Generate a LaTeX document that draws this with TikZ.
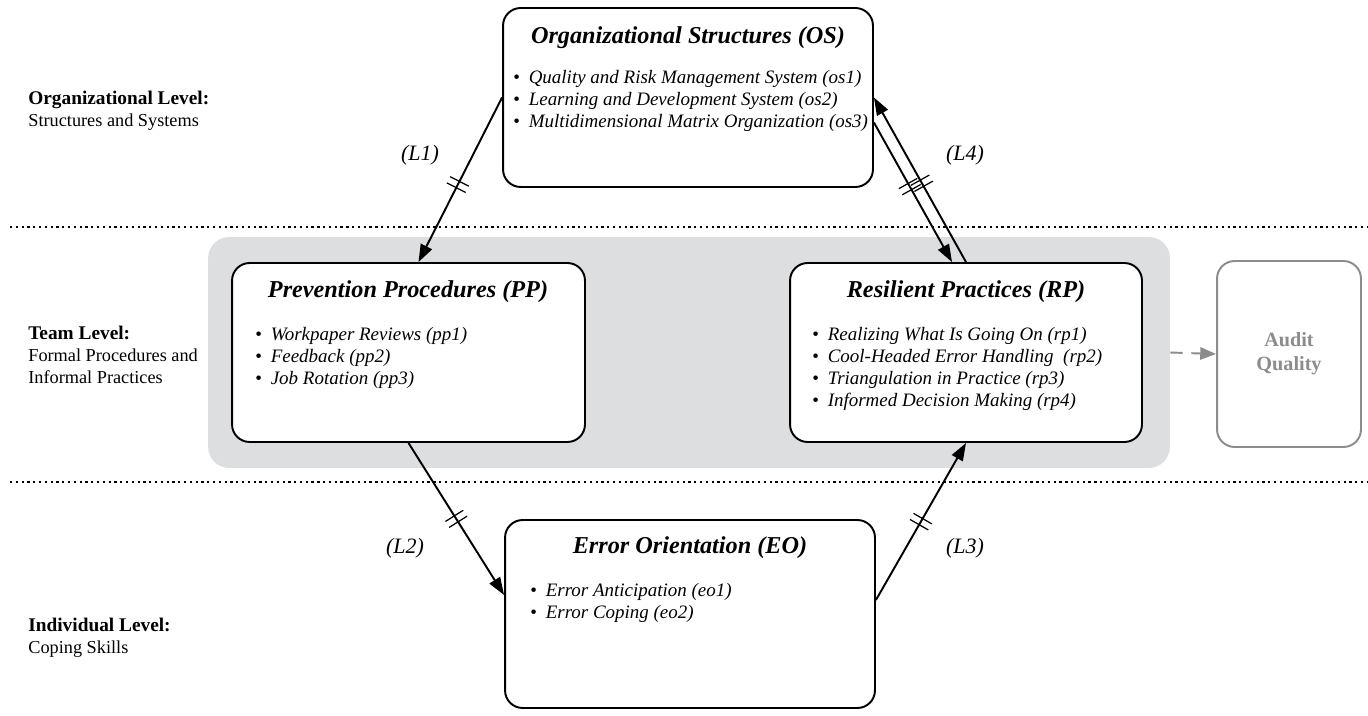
\documentclass[tikz,border=0pt]{standalone}
\usepackage{fontspec}
\setmainfont{Liberation Serif}
\usetikzlibrary{arrows.meta,decorations.markings}

\definecolor{teamgray}{RGB}{221,222,224}
\definecolor{aqgray}{RGB}{140,140,140}

\newcommand{\itm}[1]{{\upshape\textbullet}\hspace{5pt}#1}

\tikzset{
  box/.style={draw, line width=1.1pt, rounded corners=10pt, fill=white},
  title/.style={font=\fontsize{13.8}{16}\selectfont\bfseries\itshape},
  items/.style={font=\fontsize{10.8}{12.5}\selectfont\itshape, align=left, anchor=north west, inner sep=0pt},
  level/.style={font=\fontsize{10.4}{12.5}\selectfont, align=left, anchor=north west, inner sep=0pt},
  link/.style={line width=1.1pt, -{Triangle[length=10pt,width=7pt]}},
  ticks/.style={postaction={decorate}, decoration={markings, mark=at position #1 with {
      \draw[-, line width=0.7pt] (-2pt,-6pt) -- (-2pt,6pt) (2pt,-6pt) -- (2pt,6pt);}}},
  lab/.style={font=\fontsize{12.5}{14}\selectfont\itshape}
}

\begin{document}
\begin{tikzpicture}[x=0.02cm, y=-0.02cm]
  \useasboundingbox (0,0) rectangle (1368,716);

  % level separators
  \draw[dotted, line width=1.3pt] (10,227) -- (1368,227);
  \draw[dotted, line width=1.3pt] (10,482) -- (1368,482);

  % level descriptions
  \node[level] (orglvl) at (28,91) {{\fontsize{11}{12.5}\selectfont\textbf{Organizational Level:}}\\Structures and Systems};
  \node[level] (teamlvl) at (28,326) {{\fontsize{11}{12.5}\selectfont\textbf{Team Level:}}\\Formal Procedures and\\Informal Practices};
  \node[level] (indlvl) at (28,618) {{\fontsize{11}{12.5}\selectfont\textbf{Individual Level:}}\\Coping Skills};

  % team level background
  \node[fill=teamgray, rounded corners=12pt, minimum width=19.24cm, minimum height=4.62cm] (team) at (689,352.5) {};

  % boxes
  \node[box, minimum width=7.4cm, minimum height=3.58cm] (os) at (688,97.5) {};
  \node[box, minimum width=7.06cm, minimum height=3.58cm] (pp) at (408.5,352.5) {};
  \node[box, minimum width=7.04cm, minimum height=3.58cm] (rp) at (966,352.5) {};
  \node[box, minimum width=7.4cm, minimum height=3.76cm] (eo) at (690,614) {};
  \node[box, draw=aqgray, minimum width=2.88cm, minimum height=3.72cm, align=center,
        font=\fontsize{11.5}{13.5}\selectfont\bfseries, text=aqgray] (aq) at (1289,354) {Audit\\Quality};

  % box contents
  \node[title] (ostitle) at (688,38) {Organizational Structures (OS)};
  \node[items] (ositems) at (513,70) {\itm{Quality and Risk Management System (os1)}\\
    \itm{Learning and Development System (os2)}\\\itm{Multidimensional Matrix Organization (os3)}};

  \node[title] (pptitle) at (408,292) {Prevention Procedures (PP)};
  \node[items] (ppitems) at (255,327) {\itm{Workpaper Reviews (pp1)}\\\itm{Feedback (pp2)}\\\itm{Job Rotation (pp3)}};

  \node[title] (rptitle) at (966,292) {Resilient Practices (RP)};
  \node[items] (rpitems) at (812,327) {\itm{Realizing What Is Going On (rp1)}\\
    \itm{Cool-Headed Error Handling~ (rp2)}\\\itm{Triangulation in Practice (rp3)}\\
    \itm{Informed Decision Making (rp4)}};

  \node[title] (eotitle) at (690,548) {Error Orientation (EO)};
  \node[items] (eoitems) at (530,583) {\itm{Error Anticipation (eo1)}\\\itm{Error Coping (eo2)}};

  % links
  \draw[link, ticks=0.53] (os.west) -- ([xshift=0.2cm]pp.north);
  \draw[link, ticks=0.48] (rp.north) -- (os.east);
  \draw[link, ticks=0.46] ([yshift=-0.5cm]os.east) -- ([xshift=-0.28cm]rp.north);
  \draw[link, ticks=0.5] (pp.south) -- ([yshift=0.38cm]eo.west);
  \draw[link, ticks=0.5] ([yshift=0.28cm]eo.east) -- (rp.south);
  \draw[aqgray, line width=1.1pt, dashed, dash pattern=on 7pt off 5pt,
        -{Triangle[length=9pt,width=7pt]}] (team.east) -- (aq.west);

  \node[lab] (l1) at (420,155) {(L1)};
  \node[lab] (l4) at (965,155) {(L4)};
  \node[lab] (l2) at (405,548) {(L2)};
  \node[lab] (l3) at (965,548) {(L3)};
\end{tikzpicture}
\end{document}
